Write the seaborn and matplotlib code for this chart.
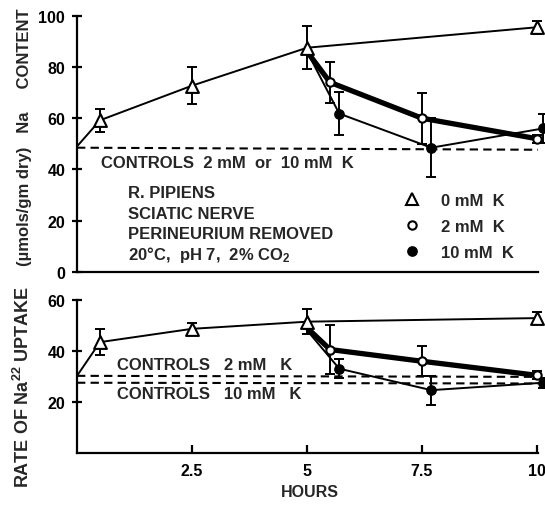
import numpy as np
import pandas as pd
import matplotlib
matplotlib.use("Agg")
import matplotlib.pyplot as plt
import seaborn as sns
from matplotlib.lines import Line2D

sns.set_theme(style="white")
plt.rcParams['font.family'] = ['Liberation Sans', 'DejaVu Sans']
plt.rcParams['font.weight'] = 'bold'
plt.rcParams['mathtext.fontset'] = 'custom'
plt.rcParams['mathtext.rm'] = 'Liberation Sans:bold'
plt.rcParams['mathtext.it'] = 'Liberation Sans:bold'
plt.rcParams['mathtext.bf'] = 'Liberation Sans:bold'

# ---------------- data ----------------
# Na content (umol/gm dry)
top_h_0 = [0.0, 0.5, 2.5, 5.0, 10.0]
top_v_0 = [49.0, 59.2, 72.7, 87.5, 95.5]
top_e_0 = [0.0, 4.5, 7.2, 8.3, 2.5]

top_h_2 = [5.0, 5.5, 7.5, 10.0]
top_v_2 = [86.0, 74.0, 60.0, 52.0]
top_e_2 = [0.0, 8.0, 10.0, 1.5]

top_h_10 = [5.0, 5.7, 7.7, 10.13]
top_v_10 = [86.0, 61.8, 48.5, 56.0]
top_e_10 = [0.0, 8.5, 11.5, 5.5]

top_ctrl_h = [0.0, 10.02]
top_ctrl_v = [48.5, 47.7]

# Rate of Na22 uptake
bot_h_0 = [0.0, 0.5, 2.5, 5.0, 10.0]
bot_v_0 = [30.2, 43.4, 48.6, 51.4, 52.8]
bot_e_0 = [0.0, 5.0, 2.3, 4.8, 2.3]

bot_h_2 = [5.0, 5.5, 7.5, 10.0]
bot_v_2 = [49.0, 40.5, 35.9, 30.4]
bot_e_2 = [0.0, 9.7, 5.8, 1.5]

bot_h_10 = [5.0, 5.7, 7.7, 10.13]
bot_v_10 = [48.0, 33.0, 24.6, 27.5]
bot_e_10 = [0.0, 3.7, 5.7, 2.0]

bot_ctrl2_h = [0.0, 10.02]
bot_ctrl2_v = [30.2, 29.8]
bot_ctrl10_h = [0.0, 10.02]
bot_ctrl10_v = [27.5, 27.2]

x_ticks = [2.5, 5, 7.5, 10]
x_ticklabels = ["2.5", "5", "7.5", "10"]
top_yticks = [0, 20, 40, 60, 80, 100]
bot_yticks = [20, 40, 60]

legend_labels = ["0 mM  K", "2 mM  K", "10 mM  K"]
info_lines = ["R. PIPIENS", "SCIATIC NERVE", "PERINEURIUM REMOVED",
              "20°C,  pH 7,  2% CO$_2$"]

# ---------------- figure ----------------
fig = plt.figure(figsize=(5.45, 5.06), dpi=100)
ax1 = fig.add_axes([77/545, 1-273/506, 461/545, (273-16.7)/506])
ax2 = fig.add_axes([77/545, 1-454/506, 461/545, (454-300.7)/506])

THIN = 1.4
THICK = 3.8
DASH = (0, (4, 2.5))
TXT = 12

tri_kw = dict(marker='^', s=85, color='white', edgecolor='black', linewidth=1.5, zorder=6, clip_on=False)
oc_kw = dict(marker='o', s=36, color='white', edgecolor='black', linewidth=1.5, zorder=6, clip_on=False)
fc_kw = dict(marker='o', s=45, color='black', edgecolor='black', linewidth=1.0, zorder=6, clip_on=False)


def draw_series(ax, h, v, e, lw, mkw):
    df = pd.DataFrame({"h": h, "v": v, "e": e})
    sns.lineplot(data=df, x="h", y="v", ax=ax, color='black', lw=lw, sort=False,
                 estimator=None, zorder=3, clip_on=False)
    pts = df.iloc[1:]
    ax.errorbar(pts["h"], pts["v"], yerr=pts["e"], fmt='none', ecolor='black',
                elinewidth=1.4, capsize=3.5, capthick=1.4, zorder=4, clip_on=False)
    sns.scatterplot(data=pts, x="h", y="v", ax=ax, **mkw)


def draw_ctrl(ax, h, v):
    df = pd.DataFrame({"h": h, "v": v})
    sns.lineplot(data=df, x="h", y="v", ax=ax, color='black', lw=1.5,
                 linestyle=DASH, estimator=None, sort=False, zorder=2)


# top panel
draw_ctrl(ax1, top_ctrl_h, top_ctrl_v)
draw_series(ax1, top_h_0, top_v_0, top_e_0, THIN, tri_kw)
draw_series(ax1, top_h_10, top_v_10, top_e_10, THIN, fc_kw)
draw_series(ax1, top_h_2, top_v_2, top_e_2, THICK, oc_kw)

# bottom panel
draw_ctrl(ax2, bot_ctrl2_h, bot_ctrl2_v)
draw_ctrl(ax2, bot_ctrl10_h, bot_ctrl10_v)
draw_series(ax2, bot_h_0, bot_v_0, bot_e_0, THIN, tri_kw)
draw_series(ax2, bot_h_10, bot_v_10, bot_e_10, THIN, fc_kw)
draw_series(ax2, bot_h_2, bot_v_2, bot_e_2, THICK, oc_kw)

for ax in (ax1, ax2):
    ax.set_xlim(0, 10.02)
    ax.set_xlabel("")
    ax.set_ylabel("")
    for s in ("top", "right"):
        ax.spines[s].set_visible(False)
    for s in ("left", "bottom"):
        ax.spines[s].set_color('black')
        ax.spines[s].set_linewidth(1.6)
    ax.tick_params(axis='y', direction='inout', length=7, width=1.6, pad=5,
                   labelsize=11.5, colors='black', left=True)
    ax.tick_params(axis='x', direction='in', length=6, width=1.6, pad=7,
                   labelsize=11.5, colors='black', bottom=True)
    ax.set_facecolor('white')

ax1.set_ylim(0, 100)
ax1.set_yticks(top_yticks)
ax1.set_xticks([])

ax2.set_ylim(0, 60)
ax2.set_yticks(bot_yticks)
ax2.set_xticks(x_ticks)
ax2.set_xticklabels(x_ticklabels)

for lab in ax1.get_yticklabels() + ax2.get_yticklabels() + ax2.get_xticklabels():
    lab.set_fontweight('bold')

# annotations
ax1.text(0.53, 42.9, "CONTROLS  2 mM  or  10 mM  K", fontsize=TXT, fontweight='bold',
         va='center', ha='left')
for i, line in enumerate(info_lines):
    ax1.text(1.1, 30.9 - 7.9 * i, line, fontsize=TXT, fontweight='bold',
             va='center', ha='left')

ax2.text(0.86, 34.6, "CONTROLS   2 mM   K", fontsize=TXT, fontweight='bold', va='center')
ax2.text(0.86, 23.3, "CONTROLS   10 mM   K", fontsize=TXT, fontweight='bold', va='center')

# legend
handles = [
    Line2D([], [], ls='none', marker='^', ms=9, mfc='white', mec='black', mew=1.5),
    Line2D([], [], ls='none', marker='o', ms=6, mfc='white', mec='black', mew=1.5),
    Line2D([], [], ls='none', marker='o', ms=6.7, mfc='black', mec='black'),
]
leg = ax1.legend(handles, legend_labels, loc='upper left', bbox_to_anchor=(0.709, 0.31),
                 frameon=False, borderpad=0, borderaxespad=0, handlelength=1.0,
                 handletextpad=1.2, labelspacing=0.67, prop={'size': TXT, 'weight': 'bold'})

fig.text(25/545, 1-137.5/506, "(µmols/gm dry)   Na     CONTENT", rotation=90,
         fontsize=12, fontweight='bold', ha='center', va='center')
fig.text(22.5/545, 1-386.5/506, "RATE OF Na$^{22}$ UPTAKE", rotation=90,
         fontsize=13, fontweight='bold', ha='center', va='center')
fig.text(310/545, 1-493/506, "HOURS", fontsize=11.5, fontweight='bold', ha='center', va='center')

fig.savefig("out.png", dpi=100, facecolor='white')
